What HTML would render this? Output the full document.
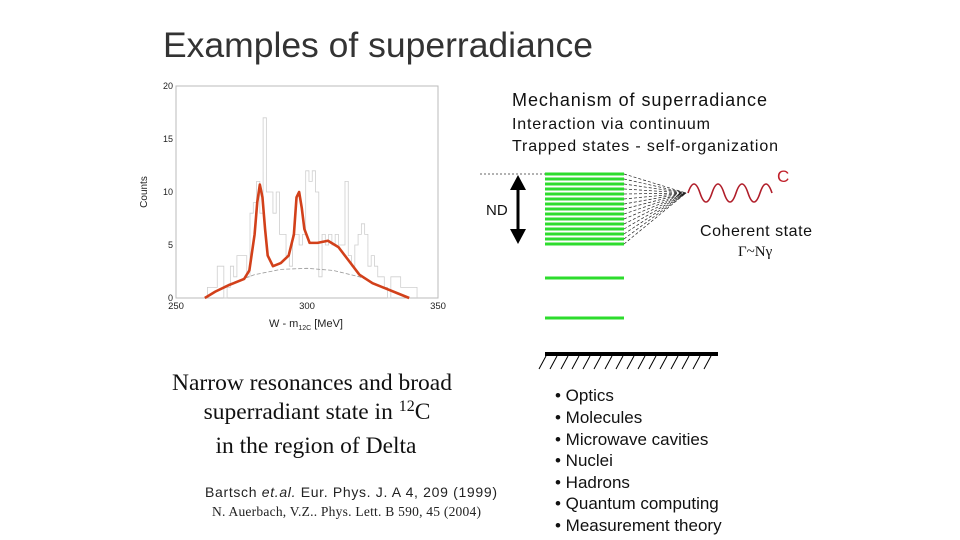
<!DOCTYPE html>
<html><head><meta charset="utf-8"><style>
html,body{margin:0;padding:0;background:#fff;}
svg{display:block;}
</style></head><body>
<svg id="s" width="960" height="540" viewBox="0 0 960 540" xmlns="http://www.w3.org/2000/svg">
<text x="163" y="57" font-family="Liberation Sans, sans-serif" font-size="35.5" fill="#333" textLength="430">Examples of superradiance</text>

<g id="chart">
<rect x="176" y="86" width="262" height="212" fill="none" stroke="#bbb" stroke-width="1"/>
<text x="147" y="192" transform="rotate(-90 147 192)" font-family="Liberation Sans, sans-serif" font-size="10" text-anchor="middle" fill="#222">Counts</text>
<text x="306" y="327" font-family="Liberation Sans, sans-serif" font-size="11" text-anchor="middle" fill="#222">W - m<tspan font-size="7" dy="3">12C</tspan><tspan dy="-3">  [MeV]</tspan></text>
</g>

<text x="512" y="106" font-family="Liberation Sans, sans-serif" font-size="18" fill="#111" textLength="255">Mechanism of superradiance</text>
<text x="512" y="129" font-family="Liberation Sans, sans-serif" font-size="16" fill="#111" textLength="198">Interaction via continuum</text>
<text x="512" y="151" font-family="Liberation Sans, sans-serif" font-size="16" fill="#111" textLength="266">Trapped states - self-organization</text>

<g id="diag">
<line x1="480" y1="174" x2="545" y2="174" stroke="#333" stroke-width="0.8" stroke-dasharray="2,2"/>
<line x1="518" y1="186" x2="518" y2="232" stroke="#000" stroke-width="3"/>
<polygon points="518,175 510,190 526,190" fill="#000"/>
<polygon points="518,244 510,229 526,229" fill="#000"/>
<text x="486" y="215" font-family="Liberation Sans, sans-serif" font-size="15" fill="#111">ND</text>
<line x1="545" y1="278" x2="624" y2="278" stroke="#2ddc2d" stroke-width="3"/>
<line x1="545" y1="318" x2="624" y2="318" stroke="#2ddc2d" stroke-width="3"/>
<line x1="545" y1="354" x2="718" y2="354" stroke="#000" stroke-width="4"/>
<text x="777" y="182" font-family="Liberation Sans, sans-serif" font-size="17" fill="#c0202a">C</text>
<text x="700" y="236" font-family="Liberation Sans, sans-serif" font-size="16" fill="#111" textLength="112">Coherent state</text>
<text x="738" y="256" font-family="Liberation Serif, serif" font-size="15" fill="#111">Γ~Nγ</text>
</g>

<g font-family="Liberation Serif, serif" font-size="23.5" fill="#111" text-anchor="middle">
<text x="312" y="390">Narrow resonances and broad</text>
<text x="317" y="419">superradiant  state in <tspan font-size="16" dy="-8">12</tspan><tspan dy="8">C</tspan></text>
<text x="316" y="453">in the region of  Delta</text>
</g>
<text x="205" y="497" font-family="Liberation Sans, sans-serif" font-size="14" fill="#222" textLength="292">Bartsch <tspan font-style="italic">et.al.</tspan> Eur. Phys. J. A 4, 209 (1999)</text>
<text x="212" y="516" font-family="Liberation Serif, serif" font-size="13.5" fill="#222" textLength="269">N. Auerbach, V.Z.. Phys. Lett. B 590, 45 (2004)</text>

<g font-family="Liberation Sans, sans-serif" font-size="17" fill="#111">
<text x="555" y="401">• Optics</text>
<text x="555" y="423">• Molecules</text>
<text x="555" y="445">• Microwave cavities</text>
<text x="555" y="466">• Nuclei</text>
<text x="555" y="488">• Hadrons</text>
<text x="555" y="509">• Quantum computing</text>
<text x="555" y="531">• Measurement theory</text>
</g>
</svg>
<script>
const xTicks = [250, 300, 350];
const yTicks = [0, 5, 10, 15, 20];
const binStart = 262;
const binWidth = 1.25;
const binCounts = [1,1,1,3,3,0,1,3,2,4,4,4,2,8,9,11,8,17,10,10,8,10,6,6,4,3,6,6,5,6,12,11,12,10,2,6,5,6,5,6,5,5,11,4,3,5,6,7,6,3,4,3,2,2,1,0,2,2,2,1,1,1,1,1];
const fitX = [261,265,270,276,278,280,281,282,283,284,285,287,290,293,295,296,297,298,299,301,304,308,312,316,320,325,330,335,339];
const fitY = [0,0.6,1.2,1.8,2.6,6,9,10.7,9.5,6.5,4,3,3.3,4,6,9.5,10,8.5,6.5,5.2,5.2,5.4,4.8,3.5,2.2,1.4,0.9,0.4,0];
const bgX = [262,270,280,290,300,310,320,325];
const bgY = [0.2,1.3,2.2,2.7,2.8,2.6,2,1.5];

const NS = 'http://www.w3.org/2000/svg';
const sx = v => 176 + (v - 250) * 2.62;
const sy = v => 298 - v * 10.6;
const g = document.getElementById('chart');
function mk(tag, attrs, parent) { const e = document.createElementNS(NS, tag); for (const k in attrs) e.setAttribute(k, attrs[k]); (parent || g).appendChild(e); return e; }

xTicks.forEach(t => {
  const e = mk('text', {x: sx(t), y: 309, 'font-family': 'Liberation Sans, sans-serif', 'font-size': 9.5, 'text-anchor': 'middle', fill: '#222'});
  e.textContent = t;
  
  
});
yTicks.forEach(t => {
  const e = mk('text', {x: 173, y: sy(t) + 3, 'font-family': 'Liberation Sans, sans-serif', 'font-size': 9, 'text-anchor': 'end', fill: '#222'});
  e.textContent = t;
  
  
});
let d = '';
binCounts.forEach((c, i) => {
  const x0 = sx(binStart + i * binWidth), x1 = sx(binStart + (i + 1) * binWidth);
  d += (i === 0 ? 'M' + x0 + ',' + sy(0) : '') + ' L' + x0 + ',' + sy(c) + ' L' + x1 + ',' + sy(c);
});
d += ' L' + sx(binStart + binCounts.length * binWidth) + ',' + sy(0);
const h = mk('path', {d: d, fill: 'none', stroke: '#cfcfcf', 'stroke-width': 0.8});


const bg = mk('path', {d: 'M' + bgX.map((x, i) => sx(x) + ',' + sy(bgY[i])).join(' L'), fill: 'none', stroke: '#999', 'stroke-width': 0.8, 'stroke-dasharray': '4,2'});


const fit = mk('path', {d: 'M' + fitX.map((x, i) => sx(x) + ',' + sy(fitY[i])).join(' L'), fill: 'none', stroke: '#d2401a', 'stroke-width': 2.6, 'stroke-linejoin': 'round'});



const dg = document.getElementById('diag');
for (let i = 0; i < 15; i++) {
  const y = 174 + i * 5;
  const l = mk('line', {x1: 545, y1: y, x2: 624, y2: y, stroke: '#2ddc2d', 'stroke-width': 3}, dg);
  
  
  const f = mk('line', {x1: 624, y1: y, x2: 686, y2: 193, stroke: '#222', 'stroke-width': 0.7, 'stroke-dasharray': '3,2'}, dg);
  
  
}
const wave = mk('path', {d: 'M688,193 c4,-12 8,-12 12,0 c4,12 8,12 12,0 c4,-12 8,-12 12,0 c4,12 8,12 12,0 c4,-12 8,-12 12,0 c4,12 8,12 12,0 c4,-12 8,-12 12,0', fill: 'none', stroke: '#b01e2a', 'stroke-width': 1.6}, dg);


for (let i = 0; i < 16; i++) {
  const x = 546 + i * 11;
  const hl = mk('line', {x1: x, y1: 356, x2: x - 7, y2: 369, stroke: '#000', 'stroke-width': 1}, dg);
  
  
}
</script>
</body></html>
